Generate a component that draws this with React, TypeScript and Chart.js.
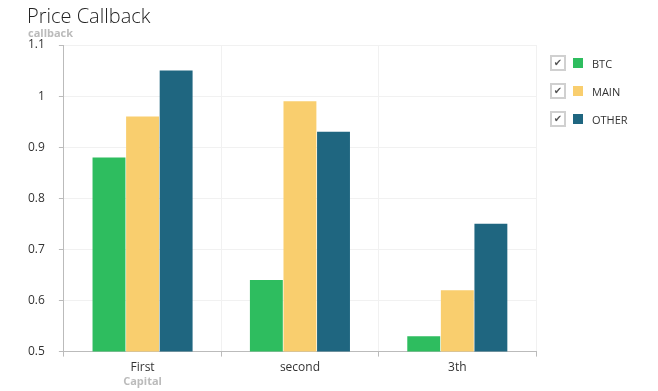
import React, { useEffect, useRef } from "react";
import { Chart, registerables } from "chart.js";

Chart.register(...registerables);

const categories = ["First", "second", "3th"];
const seriesNames = ["BTC", "MAIN", "OTHER"];
const btcValues = [0.88, 0.64, 0.53];
const mainValues = [0.96, 0.99, 0.62];
const otherValues = [1.05, 0.93, 0.75];
const seriesColors = ["#2ebd5f", "#f9ce6e", "#1f6680"];
const yMin = 0.5;
const yMax = 1.1;
const yStep = 0.1;

const FONT = "'Open Sans', 'Noto Sans', sans-serif";

const titlesPlugin = {
  id: "titlesPlugin",
  afterDraw(chart: any) {
    const ctx = chart.ctx;
    const area = chart.chartArea;
    const xScale = chart.scales.x;
    ctx.save();
    ctx.fillStyle = "#222";
    ctx.font = `300 20px ${FONT}`;
    ctx.textAlign = "left";
    ctx.textBaseline = "alphabetic";
    ctx.fillText("Price Callback", 27, 23);
    ctx.fillStyle = "#bbbbbb";
    ctx.font = `bold 11px ${FONT}`;
    ctx.fillText("callback", 28, 37);
    ctx.textAlign = "center";
    const x0 = xScale.getPixelForValue(0);
    ctx.fillText("Capital", x0, area.bottom + 33);
    ctx.restore();
  },
};

export default function App() {
  const ref = useRef<HTMLCanvasElement>(null);
  useEffect(() => {
    document.body.style.margin = "0";
    const data = [btcValues, mainValues, otherValues];
    const chart = new Chart(ref.current!, {
      type: "bar",
      data: {
        labels: categories,
        datasets: seriesNames.map((n, i) => ({
          label: n,
          data: data[i],
          backgroundColor: seriesColors[i],
          borderWidth: 0,
          categoryPercentage: 0.64,
          barPercentage: 0.98,
        })),
      },
      options: {
        animation: false,
        responsive: false,
        layout: { padding: { top: 45, right: 122, left: 14, bottom: 12 } },
        plugins: {
          legend: { display: false },
          tooltip: { enabled: false },
        },
        scales: {
          x: {
            grid: {
              offset: true,
              color: "#f1f1f1",
              tickColor: "#bbbbbb",
              tickLength: 5,
              drawTicks: true,
            },
            border: { color: "#bbbbbb" },
            ticks: { color: "#333", font: { family: FONT, size: 12 }, padding: 4 },
          },
          y: {
            min: yMin,
            max: yMax,
            grid: { color: "#f1f1f1", tickColor: "#bbbbbb", tickLength: 5 },
            border: { color: "#bbbbbb" },
            ticks: {
              stepSize: yStep,
              color: "#333",
              font: { family: FONT, size: 12 },
              padding: 14,
              callback: (v: any) => String(Number(Number(v).toFixed(1))),
            },
          },
        },
      },
      plugins: [titlesPlugin],
    });
    return () => chart.destroy();
  }, []);

  const rowStyle: React.CSSProperties = {
    position: "absolute",
    left: 550,
    display: "flex",
    alignItems: "center",
    height: 16,
  };
  return (
    <div style={{ position: "relative", width: 658, height: 391 }}>
      <canvas ref={ref} width={658} height={391} style={{ display: "block" }} />
      {seriesNames.map((n, i) => (
        <div key={n} style={{ ...rowStyle, top: 55 + i * 28 }}>
          <div
            style={{
              width: 12,
              height: 12,
              border: "2px solid #d0d0d0",
              display: "flex",
              alignItems: "center",
              justifyContent: "center",
              fontSize: 10,
              color: "#555",
              fontFamily: "'DejaVu Sans', sans-serif",
              lineHeight: "12px",
            }}
          >
            ✔
          </div>
          <div style={{ width: 10, height: 10, background: seriesColors[i], marginLeft: 7 }} />
          <div style={{ marginLeft: 9, fontFamily: FONT, fontSize: 11, color: "#333" }}>{n}</div>
        </div>
      ))}
    </div>
  );
}
